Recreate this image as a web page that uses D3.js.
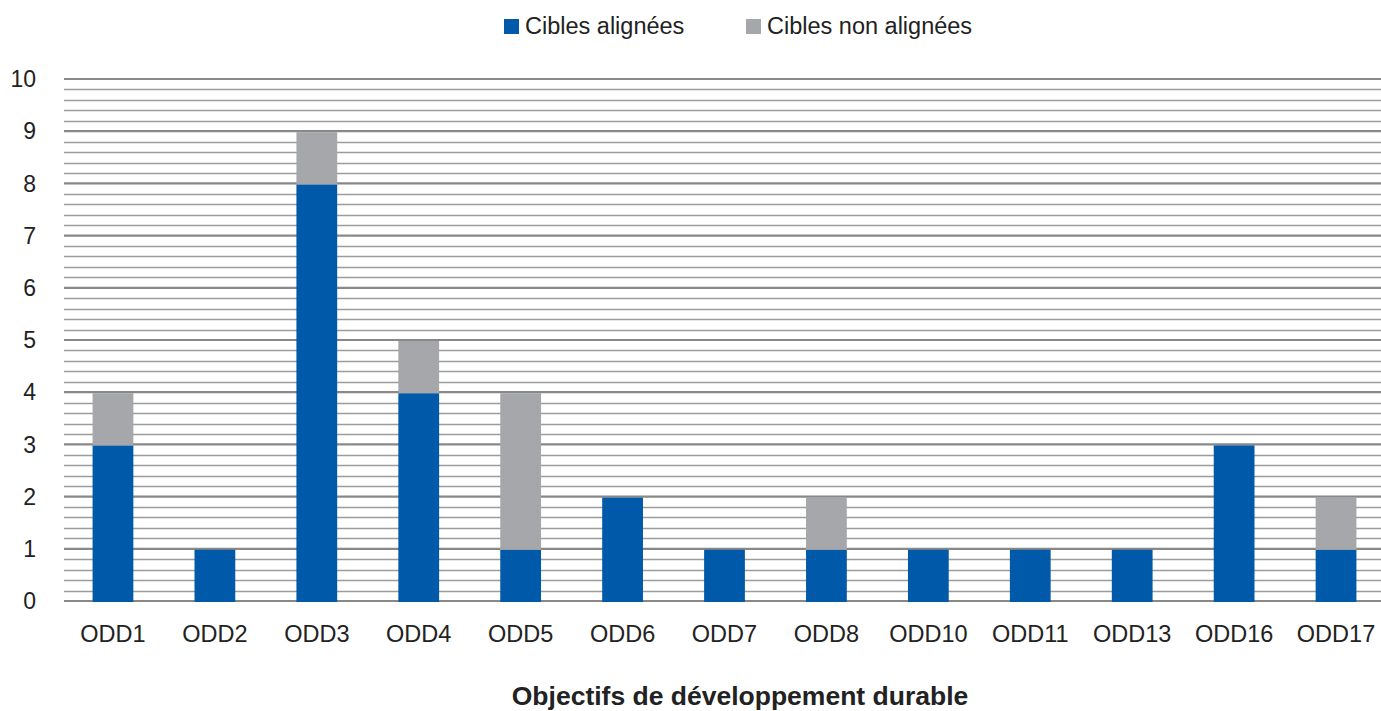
<!DOCTYPE html>
<html>
<head>
<meta charset="utf-8">
<script src="https://cdn.jsdelivr.net/npm/d3@7"></script>
<style>
  body { margin: 0; background: #fff; }
  svg { font-family: "Liberation Sans", Arial, sans-serif; }
</style>
</head>
<body>
<svg id="chart" width="1381" height="711"></svg>
<script>
// data
const categories = ["ODD1","ODD2","ODD3","ODD4","ODD5","ODD6","ODD7","ODD8","ODD10","ODD11","ODD13","ODD16","ODD17"];
const aligned    = [3, 1, 8, 4, 1, 2, 1, 1, 1, 1, 1, 3, 1];
const nonAligned = [1, 0, 1, 1, 3, 0, 0, 1, 0, 0, 0, 0, 1];
const seriesNames = ["Cibles alignées", "Cibles non alignées"];
const yTicks = [0,1,2,3,4,5,6,7,8,9,10];

const colors = ["#0059a9", "#a6a7ab"];
const svg = d3.select("#chart");

const x = d3.scaleBand().domain(categories).range([62, 1387]).paddingInner(0.6).paddingOuter(0.3);
const y = d3.scaleLinear().domain([0, 10]).range([601, 79]);

// minor grid every 0.2
const minor = d3.range(0, 10.001, 0.2).filter(v => Math.abs(v - Math.round(v)) > 0.01);
svg.append("g").selectAll("line").data(minor).join("line")
  .attr("x1", 64).attr("x2", 1381)
  .attr("y1", d => Math.round(y(d)) + 0.5).attr("y2", d => Math.round(y(d)) + 0.5)
  .attr("stroke", "#9c9c9c").attr("stroke-width", 1.4);

svg.append("g").selectAll("line").data(yTicks).join("line")
  .attr("x1", 64).attr("x2", 1381)
  .attr("y1", d => y(d)).attr("y2", d => y(d))
  .attr("stroke", "#888").attr("stroke-width", 2.2);

// stacked bars
const stack = d3.stack().keys([0, 1])(categories.map((c, i) => ({0: aligned[i], 1: nonAligned[i], cat: c})));
svg.append("g").selectAll("g").data(stack).join("g")
  .attr("fill", (d, i) => colors[i])
  .selectAll("rect").data(d => d.filter(p => p[1] > p[0])).join("rect")
  .attr("x", d => x(d.data.cat))
  .attr("width", x.bandwidth())
  .attr("y", d => y(d[1]) + 1)
  .attr("height", d => y(d[0]) - y(d[1]));

// y axis labels
svg.append("g").selectAll("text").data(yTicks).join("text")
  .attr("x", 36).attr("y", d => y(d)).attr("dy", "0.36em")
  .attr("text-anchor", "end").attr("font-size", 23).attr("fill", "#222")
  .text(d => d);

// x axis labels
svg.append("g").selectAll("text").data(categories).join("text")
  .attr("x", d => x(d) + x.bandwidth() / 2).attr("y", 642)
  .attr("text-anchor", "middle").attr("font-size", 23.5).attr("fill", "#222")
  .text(d => d);

// axis title
svg.append("text").attr("x", 740).attr("y", 705).attr("text-anchor", "middle")
  .attr("font-size", 26.5).attr("font-weight", "bold").attr("fill", "#222")
  .text("Objectifs de développement durable");

// legend
const legendX = [504, 746];
const lg = svg.append("g").selectAll("g").data(seriesNames).join("g")
  .attr("transform", (d, i) => `translate(${legendX[i]},19)`);
lg.append("rect").attr("width", 15).attr("height", 15).attr("fill", (d, i) => colors[i]);
lg.append("text").attr("x", 21).attr("y", 15).attr("font-size", 23.5).attr("fill", "#222").text(d => d);
</script>
</body>
</html>
